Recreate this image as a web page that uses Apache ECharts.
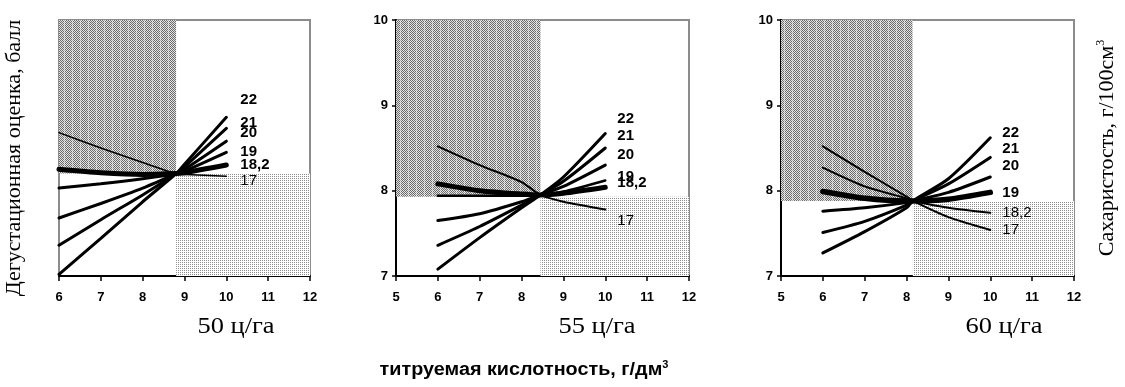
<!DOCTYPE html>
<html>
<head>
<meta charset="utf-8">
<script src="https://cdn.jsdelivr.net/npm/echarts@6/dist/echarts.min.js"></script>
<style>
html,body{margin:0;padding:0;background:#fff;}
#chart{width:1125px;height:387px;}
</style>
</head>
<body>
<div id="chart"></div>
<script>
// ---- data ----
const panelTitles = ['50 ц/га', '55 ц/га', '60 ц/га'];
const seriesNames = ['22', '21', '20', '19', '18,2', '17'];
const xTicksMin = [6, 5, 5];
const xTicksMax = [12, 12, 12];
const yMin = 7, yMax = 10;

// 50 ц/га
const x50 = [6, 7, 8, 8.8, 9, 10];
const p50_22 = [7.02, 7.44, 7.87, 8.2, 8.31, 8.86];
const p50_21 = [7.36, 7.66, 7.95, 8.2, 8.28, 8.73];
const p50_20 = [7.68, 7.85, 8.03, 8.2, 8.25, 8.58];
const p50_19 = [8.03, 8.08, 8.14, 8.2, 8.23, 8.45];
const p50_182 = [8.25, 8.21, 8.19, 8.2, 8.21, 8.30];
const p50_17 = [8.68, 8.5, 8.33, 8.2, 8.19, 8.17];

// 55 ц/га
const x55 = [6, 7, 8, 8.45, 9, 10];
const p55_22 = [7.08, 7.45, 7.8, 7.95, 8.16, 8.67];
const p55_21 = [7.36, 7.58, 7.83, 7.95, 8.11, 8.50];
const p55_20 = [7.65, 7.73, 7.87, 7.95, 8.05, 8.30];
const p55_19 = [7.94, 7.94, 7.94, 7.95, 7.99, 8.12];
const p55_182 = [8.08, 8.0, 7.96, 7.95, 7.97, 8.04];
const p55_17 = [8.52, 8.3, 8.1, 7.95, 7.87, 7.78];

// 60 ц/га
const x60 = [6, 7, 8, 8.15, 9, 10];
const p60_22 = [7.27, 7.52, 7.8, 7.88, 8.14, 8.62];
const p60_21 = [7.51, 7.64, 7.83, 7.88, 8.08, 8.39];
const p60_20 = [7.76, 7.8, 7.86, 7.88, 7.98, 8.16];
const p60_19 = [7.99, 7.91, 7.88, 7.88, 7.9, 7.98];
const p60_182 = [8.27, 8.05, 7.91, 7.88, 7.8, 7.74];
const p60_17 = [8.52, 8.22, 7.93, 7.88, 7.69, 7.54];

// shaded zones: [x threshold, y threshold]
const zoneX = [8.8, 8.45, 8.15];
const zoneY = [8.2, 7.93, 7.88];

const panelX = [x50, x55, x60];
const panelY = [
  [p50_22, p50_21, p50_20, p50_19, p50_182, p50_17],
  [p55_22, p55_21, p55_20, p55_19, p55_182, p55_17],
  [p60_22, p60_21, p60_20, p60_19, p60_182, p60_17]
];

// ---- styles ----
const grids = [
  {left: 59, top: 20, width: 251, height: 256},
  {left: 396, top: 20, width: 293, height: 256},
  {left: 781, top: 20, width: 293, height: 256}
];
const lineWidths = [
  [3, 3, 3, 3, 5, 1.5],
  [3, 3, 3, 2.5, 5, 2],
  [3, 3, 3, 5.5, 2, 2]
];
const labelBold = [
  [true, true, true, true, true, false],
  [true, true, true, true, true, false],
  [true, true, true, true, false, false]
];
const labelOffsets = [
  [[14, -17], [14, -6], [14, -8], [14, 0], [14, 0], [14, 5]],
  [[12, -15], [12, -12], [12, -10], [12, -4], [12, -4], [12, 11]],
  [[12, -5], [12, -9], [12, -11], [12, 0], [12, 0], [12, 0]]
];

function makePattern(w, h, draw) {
  const c = document.createElement('canvas');
  c.width = w; c.height = h;
  const ctx = c.getContext('2d');
  draw(ctx);
  return {image: c, repeat: 'repeat'};
}
const darkPattern = makePattern(8, 2, ctx => {
  for (let y = 0; y < 2; y++) for (let x = 0; x < 8; x++) {
    ctx.fillStyle = ((x + y) % 2 === 0) ? '#6c6c6c' : '#e2e2e2';
    if (x === 0) ctx.fillStyle = ((x + y) % 2 === 0) ? '#a8a8a8' : '#f4f4f4';
    ctx.fillRect(x, y, 1, 1);
  }
});
const lightPattern = makePattern(2, 2, ctx => {
  ctx.fillStyle = '#ffffff'; ctx.fillRect(0, 0, 2, 2);
  ctx.fillStyle = '#8c8c8c'; ctx.fillRect(0, 0, 1, 1);
});

const chart = echarts.init(document.getElementById('chart'), null, {renderer: 'canvas'});

const xAxes = [], yAxes = [], series = [];
grids.forEach((g, i) => {
  Object.assign(g, {show: true, borderColor: '#8c8c8c', borderWidth: 2, backgroundColor: 'transparent'});
  xAxes.push({
    type: 'value', gridIndex: i, min: xTicksMin[i], max: xTicksMax[i], interval: 1,
    splitLine: {show: false},
    axisLine: {show: true, onZero: false, lineStyle: {color: '#000', width: 2}},
    axisTick: {show: true, length: 5, lineStyle: {color: '#000', width: 1.5}},
    axisLabel: {show: true, margin: 15, color: '#000', fontSize: 13, fontWeight: 'bold', fontFamily: 'Liberation Sans'}
  });
  yAxes.push({
    type: 'value', gridIndex: i, min: yMin, max: yMax, interval: 1,
    splitLine: {show: false},
    axisLine: {show: i > 0, onZero: false, lineStyle: {color: '#000', width: 2}},
    axisTick: {show: i > 0, length: 4, lineStyle: {color: '#000', width: 1.5}},
    axisLabel: {show: i > 0, margin: 8, color: '#000', fontSize: 13, fontWeight: 'bold', fontFamily: 'Liberation Sans'}
  });
  series.push({
    type: 'line', xAxisIndex: i, yAxisIndex: i, data: [], z: 1, silent: true,
    markArea: {
      silent: true,
      data: [
        [{xAxis: xTicksMin[i], yAxis: zoneY[i], itemStyle: {color: darkPattern}}, {xAxis: zoneX[i], yAxis: yMax}],
        [{xAxis: zoneX[i], yAxis: yMin, itemStyle: {color: lightPattern}}, {xAxis: xTicksMax[i], yAxis: zoneY[i]}]
      ]
    }
  });
  seriesNames.forEach((name, k) => {
    const ys = panelY[i][k];
    series.push({
      type: 'line', name: name, xAxisIndex: i, yAxisIndex: i, z: 3,
      data: panelX[i].map((x, j) => [x, ys[j]]),
      smooth: 0.25, showSymbol: false, symbol: 'none',
      lineStyle: {color: '#000', width: lineWidths[i][k], cap: 'round'},
      endLabel: {
        show: true, formatter: name, distance: 0, offset: labelOffsets[i][k],
        color: '#000', fontSize: 15, fontFamily: 'Liberation Sans',
        fontWeight: labelBold[i][k] ? 'bold' : 'normal'
      },
      emphasis: {disabled: true}
    });
  });
});

const titleX = [236, 597, 1004];
const graphics = panelTitles.map((t, i) => ({
  type: 'text', x: titleX[i], y: 327, scaleX: 1.15,
  style: {text: t, textAlign: 'center', textVerticalAlign: 'middle', fill: '#000', font: '23px "Liberation Serif"'}
}));
graphics.push({
  type: 'text', x: 14, y: 158, rotation: Math.PI / 2,
  style: {text: 'Дегустационная оценка, балл', textAlign: 'center', textVerticalAlign: 'middle', fill: '#000', font: '22px "Liberation Serif"'}
});
graphics.push({
  type: 'text', x: 1107, y: 148, rotation: Math.PI / 2,
  style: {
    text: 'Сахаристость, г/100см{sup|3}', textAlign: 'center', textVerticalAlign: 'middle', fill: '#000',
    font: '22px "Liberation Serif"',
    rich: {sup: {fontSize: 12, fontFamily: 'Liberation Serif', padding: [0, 0, 12, 0]}}
  }
});
graphics.push({
  type: 'text', x: 524, y: 370, scaleX: 1.1,
  style: {
    text: 'титруемая кислотность, г/дм{sup|3}', textAlign: 'center', textVerticalAlign: 'middle', fill: '#000',
    font: 'bold 18px "Liberation Sans"',
    rich: {sup: {fontSize: 10, fontWeight: 'bold', fontFamily: 'Liberation Sans', padding: [0, 0, 10, 0]}}
  }
});

chart.setOption({
  animation: false,
  backgroundColor: '#fff',
  grid: grids,
  xAxis: xAxes,
  yAxis: yAxes,
  series: series,
  graphic: graphics
});
</script>
</body>
</html>
